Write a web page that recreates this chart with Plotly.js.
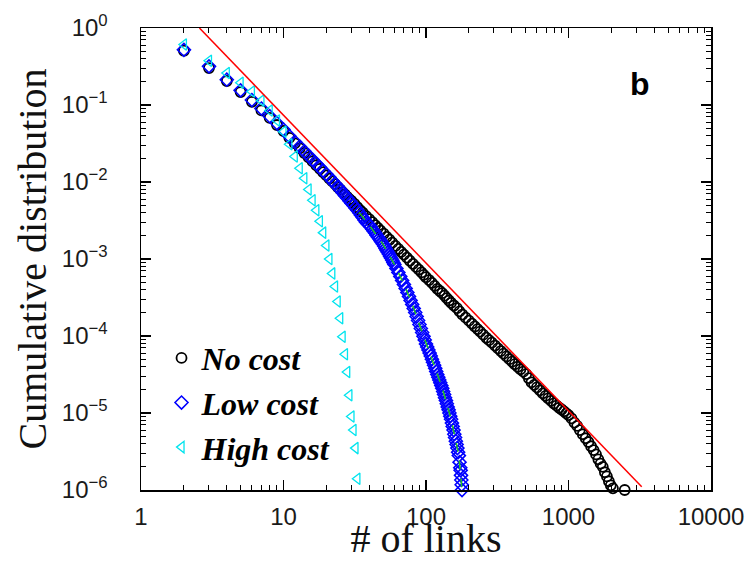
<!DOCTYPE html>
<html>
<head>
<meta charset="utf-8">
<script src="https://cdn.plot.ly/plotly-3.0.1.min.js"></script>
<style>html,body{margin:0;padding:0;background:#fff;}#chart{width:754px;height:561px;}</style>
</head>
<body>
<div id="chart"></div>
<script>
// ---- data ----
const xTickVals = [1, 10, 100, 1000, 10000];
const xTickText = ['1', '10', '100', '1000', '10000'];
const yTickVals = [1, 0.1, 0.01, 0.001, 0.0001, 0.00001, 0.000001];
const yTickText = ['10<sup>0</sup>', '10<sup>\u22121</sup>', '10<sup>\u22122</sup>', '10<sup>\u22123</sup>',
                   '10<sup>\u22124</sup>', '10<sup>\u22125</sup>', '10<sup>\u22126</sup>'];

const seriesNames = ['No cost', 'Low cost', 'High cost'];

const noCostX = [2,3,4,5,6,7,8,9,10,11,12,13,14,15,16,17,18,19,20,21,22,23,24,25,26,27,28,29,30,31.5,33,34.5,36,38,40,
  42,44,46,48,50.5,53,55.5,58,61,64,67,70,73.5,77,81,85,89,93,96.5,100,105,110,115,120,125,130,135,140,145,150,157,165,172,
  180,190,200,210,220,230,240,252,265,277,290,305,320,335,350,367,385,402,420,440,460,482,505,527,550,574,600,630,660,690,
  720,754,790,825,860,895,930,965,1000,
  1050,1100,1150,1200,1260,1320,1380,1440,1500,1560,1620,1680,1740,1800,1860,1920,1980,2050,2480];
const noCostY = [0.507,0.302,0.205,0.147,0.110,0.085,0.068,0.055,0.046,0.0374,0.0317,0.0274,0.0238,0.0209,0.0185,0.0165,
  0.0148,0.0134,0.0122,0.0111,0.0102,0.0094,0.0086,0.0080,0.0074,0.0069,0.0064,0.0060,0.0057,0.0052,0.0047,0.0043,0.0040,
  0.0036,0.0033,0.00301,0.00275,0.00254,0.00234,0.00213,0.00194,0.00178,0.00163,0.00148,0.00135,0.00124,0.00114,0.00104,
  9.5e-4,8.66e-4,7.9e-4,7.28e-4,6.7e-4,6.23e-4,5.8e-4,5.33e-4,4.9e-4,4.48e-4,4.1e-4,3.84e-4,3.6e-4,3.34e-4,3.1e-4,2.89e-4,
  2.7e-4,2.49e-4,2.3e-4,2.09e-4,1.9e-4,1.73e-4,1.58e-4,1.45e-4,1.33e-4,1.23e-4,1.14e-4,1.04e-4,9.5e-5,8.83e-5,8.2e-5,
  7.52e-5,6.9e-5,6.38e-5,5.9e-5,5.43e-5,5.0e-5,4.64e-5,4.3e-5,3.99e-5,3.7e-5,3.44e-5,3.2e-5,2.83e-5,2.5e-5,2.32e-5,
  2.15e-5,1.97e-5,1.8e-5,1.67e-5,1.55e-5,1.44e-5,1.33e-5,1.25e-5,1.17e-5,1.11e-5,1.05e-5,9.9e-6,9.4e-6,
  8.5e-6,7.5e-6,6.8e-6,6e-6,5.3e-6,4.7e-6,4.2e-6,3.7e-6,3.3e-6,2.9e-6,2.5e-6,2.2e-6,2e-6,1.7e-6,1.5e-6,1.3e-6,1.15e-6,1.05e-6,1e-6];

const lowCostX = [2,3,4,5,6,7,8,9,10,11,12,13,14,15,16,17,18,19,20,21,22,23,24,25,26,27,28,29,30,31,32,33,34,35,36,37,38,39,
  40,41,42,43,44,45,46,47,48,49,50,51,52,53,54,55,56,57,58,59,60,62,64,66,68,70,72,74,76,78,80,82,84,86,88,90,92,94,96,98,
  100,102,104,106,108,110,112,114,116,118,120,122,124,126,128,130,132,134,136,138,140,142,144,146,148,150,152,154,156,158,
  160,162,164,166,168,170,172,174,175,176,177,178,179];
const lowCostY = [0.52,0.318,0.213,0.155,0.116,0.09,0.0715,0.058,0.048,0.0393,0.0333,0.0288,0.025,0.022,0.0194,0.0173,
  0.0155,0.0139,0.0126,0.0115,0.0104,0.0095,0.0087,0.0080,0.0073,0.0067,0.0062,0.0057,0.0053,0.00495,0.0046,0.0043,0.0040,
  0.0037,0.00345,0.0032,0.0030,0.00287,0.00275,0.0026,0.00244,0.0023,0.00217,0.00204,0.00193,0.00183,0.00173,0.00164,
  0.00155,0.00146,0.00137,0.00129,0.00122,0.00115,0.00108,0.00102,9.6e-4,9.0e-4,8.5e-4,7.55e-4,6.7e-4,5.94e-4,5.27e-4,
  4.68e-4,4.15e-4,3.68e-4,3.27e-4,2.9e-4,2.57e-4,2.28e-4,2.02e-4,1.79e-4,1.59e-4,1.41e-4,1.25e-4,1.11e-4,9.9e-5,8.9e-5,
  7.9e-5,7.2e-5,6.6e-5,6.0e-5,5.5e-5,5.0e-5,4.57e-5,4.17e-5,3.8e-5,3.47e-5,3.16e-5,2.91e-5,2.68e-5,2.47e-5,2.27e-5,
  2.09e-5,1.9e-5,1.74e-5,1.58e-5,1.45e-5,1.32e-5,1.2e-5,1.1e-5,1.0e-5,9.1e-6,8.3e-6,7.4e-6,6.7e-6,6.0e-6,5.3e-6,
  4.8e-6,4.3e-6,3.9e-6,3.5e-6,3.1e-6,2.8e-6,2.3e-6,1.95e-6,1.8e-6,1.55e-6,1.35e-6,1.17e-6,1e-6];

const highCostX = [2,3,4,5,6,7,8,9,10,11,12,13,14,15,16,17,18,19,20,21,22,23,24,25,26,27,28,29,30,31,32,33];
const highCostY = [0.61,0.376,0.26,0.195,0.15,0.114,0.085,0.063,0.045,0.031,0.0215,0.0151,0.0112,0.008,0.0058,0.0043,
  0.0031,0.0022,0.0015,0.001,6.5e-4,4.4e-4,2.8e-4,1.7e-4,9.8e-5,5.8e-5,3.4e-5,1.7e-5,9e-6,6e-6,3.5e-6,1.4e-6];

const fitX = [34,40,50,60,70,80,90,100,110,120,130,140,150,160,170,178];
const fitY = [0.0040,0.00275,0.00155,8.5e-4,4.7e-4,2.6e-4,1.4e-4,7.9e-5,5.0e-5,3.2e-5,2.1e-5,1.32e-5,8.3e-6,4.8e-6,2.8e-6,1.1e-6];

const powerLawX = [2.57, 3264];
const powerLawY = [1, 1.1e-6];

// minor tick positions (digits 1..9 in each decade) for the tick-only overlay axes
const minorDigits = [1, 2, 3, 4, 5, 6, 7, 8, 9];
function decadeTicks(lo, hi) {
  const out = [];
  for (let e = lo; e < hi; e++) for (const d of minorDigits) out.push(d * Math.pow(10, e));
  out.push(Math.pow(10, hi));
  return out;
}

// ---- traces ----
const traces = [
  {x: noCostX, y: noCostY, name: seriesNames[0], type: 'scatter', mode: 'markers', cliponaxis: false,
   marker: {symbol: 'circle-open', size: 10, color: '#000000', line: {width: 1.8, color: '#000000'}}},
  {x: lowCostX, y: lowCostY, name: seriesNames[1], type: 'scatter', mode: 'markers', cliponaxis: false,
   marker: {symbol: 'diamond-open', size: 10, color: '#0000ff', line: {width: 1.6, color: '#0000ff'}}},
  {x: fitX, y: fitY, type: 'scatter', mode: 'lines', showlegend: false, hoverinfo: 'skip',
   line: {color: '#22c022', width: 1.5, dash: 'dash'}},
  {x: highCostX, y: highCostY, name: seriesNames[2], type: 'scatter', mode: 'markers', cliponaxis: false,
   marker: {symbol: 'triangle-left-open', size: 10, color: '#00e4ee', line: {width: 1.3, color: '#00e4ee'}}},
  {x: powerLawX, y: powerLawY, type: 'scatter', mode: 'lines', showlegend: false, xaxis: 'x2', yaxis: 'y2',
   line: {color: '#ff0000', width: 1.5}}
];

const tickFont = {family: 'Liberation Sans, Arial, sans-serif', size: 24, color: '#1a1a1a'};
const titleFont = {family: 'Liberation Serif, Times New Roman, serif', size: 40, color: '#111'};

const layout = {
  width: 754, height: 561,
  margin: {l: 141, r: 43, t: 28, b: 71, pad: 0},
  paper_bgcolor: '#ffffff', plot_bgcolor: '#ffffff',
  showlegend: true,
  legend: {x: 0.036, y: 0.345, xanchor: 'left', yanchor: 'top', bgcolor: 'rgba(0,0,0,0)',
           font: {family: 'Liberation Serif, Times New Roman, serif', size: 32, color: '#000', weight: 'bold', style: 'italic'},
           tracegroupgap: 0, itemwidth: 30},
  xaxis: {type: 'log', range: [0, 4], tickvals: xTickVals, ticktext: xTickText,
          ticks: 'inside', ticklen: 10, tickwidth: 1.2, tickcolor: '#000',
          showline: true, linecolor: '#000', linewidth: 1.5, mirror: 'allticks',
          showgrid: false, zeroline: false, tickfont: tickFont, ticklabelstandoff: 5,
          title: {text: '# of links', font: titleFont, standoff: 6}},
  yaxis: {type: 'log', range: [-6, 0], tickvals: yTickVals, ticktext: yTickText,
          ticks: 'inside', ticklen: 10, tickwidth: 1.2, tickcolor: '#000',
          showline: true, linecolor: '#000', linewidth: 1.5, mirror: 'allticks',
          showgrid: false, zeroline: false, tickfont: tickFont, ticklabelstandoff: 27,
          title: {text: 'Cumulative distribution', font: titleFont, standoff: 3}},
  xaxis2: {type: 'log', range: [0, 4], overlaying: 'x', side: 'bottom', tickmode: 'array', tickvals: decadeTicks(0, 4),
           ticks: 'inside', ticklen: 5, tickwidth: 1, tickcolor: '#000', mirror: 'allticks',
           showline: true, linecolor: '#000', linewidth: 1.5, showgrid: false, zeroline: false, showticklabels: false},
  yaxis2: {type: 'log', range: [-6, 0], overlaying: 'y', side: 'left', tickmode: 'array', tickvals: decadeTicks(-6, 0),
           ticks: 'inside', ticklen: 5, tickwidth: 1, tickcolor: '#000', mirror: 'allticks',
           showline: true, linecolor: '#000', linewidth: 1.5, showgrid: false, zeroline: false, showticklabels: false},
  annotations: [{text: '<b>b</b>', xref: 'paper', yref: 'paper', x: 0.875, y: 0.879, xanchor: 'center', yanchor: 'middle',
                 showarrow: false, font: {family: 'Liberation Sans, Arial, sans-serif', size: 32, color: '#000'}}]
};

Plotly.newPlot('chart', traces, layout, {displayModeBar: false, staticPlot: true});
</script>
</body>
</html>
